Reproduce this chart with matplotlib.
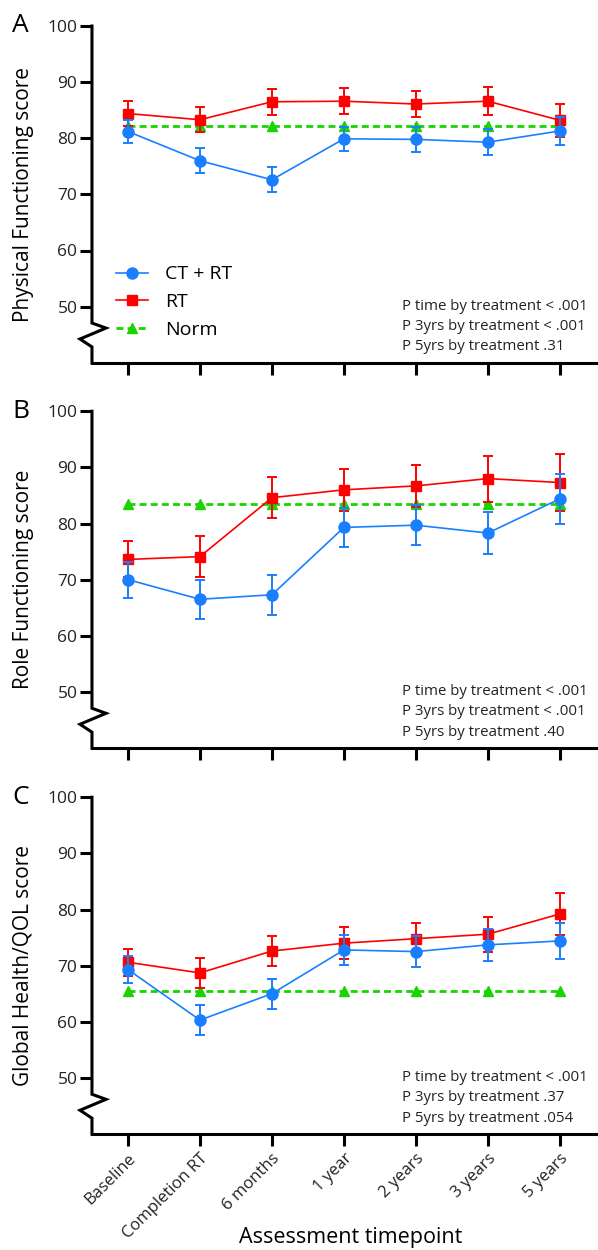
import matplotlib.pyplot as plt
from matplotlib.lines import Line2D

plt.rcParams['font.family'] = ['Open Sans', 'DejaVu Sans']

timepoints = ['Baseline', 'Completion RT', '6 months', '1 year', '2 years', '3 years', '5 years']

# Physical functioning
pf_ctrt = [81.2, 76.0, 72.6, 79.9, 79.8, 79.3, 81.3]
pf_ctrt_err = [2.1, 2.2, 2.2, 2.1, 2.2, 2.3, 2.5]
pf_rt = [84.4, 83.3, 86.5, 86.6, 86.1, 86.6, 83.2]
pf_rt_err = [2.2, 2.2, 2.3, 2.3, 2.4, 2.5, 2.9]
pf_norm = [82.1, 82.1, 82.1, 82.1, 82.1, 82.1, 82.1]

# Role functioning
rf_ctrt = [70.0, 66.5, 67.3, 79.3, 79.7, 78.3, 84.4]
rf_ctrt_err = [3.2, 3.5, 3.6, 3.5, 3.6, 3.8, 4.4]
rf_rt = [73.6, 74.1, 84.6, 86.0, 86.7, 88.0, 87.3]
rf_rt_err = [3.2, 3.6, 3.6, 3.7, 3.8, 4.1, 5.0]
rf_norm = [83.5, 83.5, 83.5, 83.5, 83.5, 83.5, 83.5]

# Global health / QOL
ql_ctrt = [69.3, 60.3, 65.0, 72.8, 72.5, 73.7, 74.4]
ql_ctrt_err = [2.4, 2.6, 2.7, 2.6, 2.7, 2.8, 3.2]
ql_rt = [70.6, 68.7, 72.6, 74.0, 74.8, 75.6, 79.2]
ql_rt_err = [2.4, 2.7, 2.7, 2.8, 2.8, 3.1, 3.7]
ql_norm = [65.5, 65.5, 65.5, 65.5, 65.5, 65.5, 65.5]

panels = [
    ('A', 'Physical Functioning score', pf_ctrt, pf_ctrt_err, pf_rt, pf_rt_err, pf_norm,
     ['P time by treatment < .001', 'P 3yrs by treatment < .001', 'P 5yrs by treatment .31']),
    ('B', 'Role Functioning score', rf_ctrt, rf_ctrt_err, rf_rt, rf_rt_err, rf_norm,
     ['P time by treatment < .001', 'P 3yrs by treatment < .001', 'P 5yrs by treatment .40']),
    ('C', 'Global Health/QOL score', ql_ctrt, ql_ctrt_err, ql_rt, ql_rt_err, ql_norm,
     ['P time by treatment < .001', 'P 3yrs by treatment .37', 'P 5yrs by treatment .054']),
]

blue = '#1a7fff'
red = '#ff0000'
green = '#19d400'
x = list(range(len(timepoints)))

fig = plt.figure(figsize=(5.98, 12.5), dpi=100)
bottoms = [0.7098, 0.4016, 0.0928]
height = 0.2694

for i, (letter, ylabel, ctrt, ctrt_err, rt, rt_err, norm, ptext) in enumerate(panels):
    ax = fig.add_axes([0.1538, bottoms[i], 0.8462, height])

    ax.plot(x, norm, color=green, lw=2.0, ls=(0, (2.5, 1.5)), marker='^', ms=7.5, zorder=2)
    ax.errorbar(x, rt, yerr=rt_err, color=red, lw=1.2, marker='s', ms=7.5,
                capsize=3.5, elinewidth=1.4, capthick=1.4, zorder=3)
    ax.errorbar(x, ctrt, yerr=ctrt_err, color=blue, lw=1.2, marker='o', ms=8,
                capsize=3.5, elinewidth=1.4, capthick=1.4, zorder=4)

    ax.set_xlim(-0.5, 6.53)
    ax.set_ylim(40, 100)
    ax.set_yticks([50, 60, 70, 80, 90, 100])
    ax.set_xticks(x)
    if i == 2:
        ax.set_xticklabels(timepoints, rotation=45, ha='right', rotation_mode='anchor',
                           fontsize=12)
    else:
        ax.set_xticklabels([])

    for s in ['top', 'right', 'left']:
        ax.spines[s].set_visible(False)
    ax.spines['bottom'].set_linewidth(2.2)
    ax.tick_params(axis='both', width=2.2, length=8.5, color='black',
                   labelcolor='#222222')
    ax.tick_params(axis='y', pad=2, labelsize=12.5)

    # left axis with a break
    bx = [0, 0, 0.0277, -0.0237, 0, 0]
    by = [1, 0.118, 0.103, 0.0705, 0.047, 0]
    ax.add_line(Line2D(bx, by, transform=ax.transAxes, color='black', lw=2.2,
                       clip_on=False, solid_joinstyle='miter', zorder=5))

    ax.set_ylabel(ylabel, fontsize=15)
    ax.yaxis.set_label_coords(-0.115, 0.5)
    ax.text(-0.158, 1.0, letter, transform=ax.transAxes, fontsize=19, va='center', ha='left')

    for k, t in enumerate(ptext):
        ax.text(0.612, 0.167 - k * 0.06, t, transform=ax.transAxes, fontsize=10.8,
                va='center', ha='left', color='#222222')

    if i == 0:
        handles = [
            Line2D([], [], color=blue, lw=1.2, marker='o', ms=8),
            Line2D([], [], color=red, lw=1.2, marker='s', ms=7.5),
            Line2D([], [], color=green, lw=2.0, ls=(0, (2.5, 1.5)), marker='^', ms=7.5),
        ]
        ax.legend(handles, ['CT + RT', 'RT', 'Norm'], loc='upper left',
                  bbox_to_anchor=(0.033, 0.312), frameon=False, fontsize=14,
                  handlelength=1.6, handletextpad=0.9, labelspacing=0.5,
                  borderaxespad=0)

fig.text(351 / 598, 1 - 1238 / 1250, 'Assessment timepoint', fontsize=15.5,
         ha='center', va='center')

fig.savefig('out.png', dpi=100)
